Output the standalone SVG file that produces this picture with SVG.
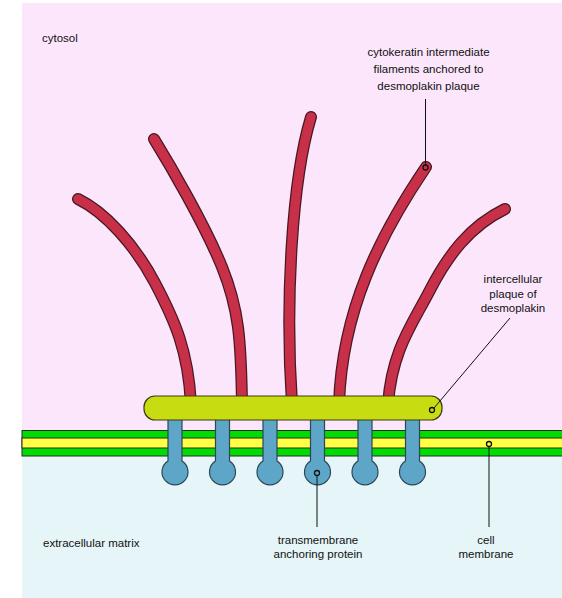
<svg xmlns="http://www.w3.org/2000/svg" width="562" height="598" viewBox="0 0 562 598">
  <defs>
    <style>
      .label { font-family: "Liberation Sans", Arial, sans-serif; font-size: 11.5px; fill: #111; }
      .mid { text-anchor: middle; }
      .fil-edge { fill: none; stroke: #4a1822; stroke-width: 12; stroke-linecap: round; }
      .fil-core { fill: none; stroke: #c83049; stroke-width: 9.5; stroke-linecap: round; }
      .protein { fill: #5ea6c8; stroke: #2c4656; stroke-width: 1.2; }
      .leader { fill: none; stroke: #111; stroke-width: 1; }
      .dot { fill: none; stroke: #111; stroke-width: 1.3; }
    </style>
  </defs>

  <!-- background compartments -->
  <rect x="22" y="3" width="540" height="430" fill="#fce6fc"/>
  <rect x="22" y="452" width="540" height="146" fill="#e6f5f7"/>

  <!-- cell membrane (bilayer) -->
  <g id="membrane">
    <rect x="22" y="430.5" width="545" height="25.5" fill="#00dc00" stroke="#2a2a2a" stroke-width="1"/>
    <rect x="22" y="438" width="545" height="10" fill="#ffff44" stroke="#2a2a2a" stroke-width="1"/>
  </g>

  <!-- cytokeratin filaments -->
  <g id="filaments">
    <g id="filament-1">
      <path class="fil-edge" d="M78,199 C105,212 135,245 155,283 S188,350 191,404"/>
      <path class="fil-core" d="M78,199 C105,212 135,245 155,283 S188,350 191,404"/>
    </g>
    <g id="filament-2">
      <path class="fil-edge" d="M154,139 C170,165 205,225 222,267 S241,340 242,404"/>
      <path class="fil-core" d="M154,139 C170,165 205,225 222,267 S241,340 242,404"/>
    </g>
    <g id="filament-3">
      <path class="fil-edge" d="M311,117 C292,180 285,300 292,404"/>
      <path class="fil-core" d="M311,117 C292,180 285,300 292,404"/>
    </g>
    <g id="filament-4">
      <path class="fil-edge" d="M426,167 C380,235 342,310 339,404"/>
      <path class="fil-core" d="M426,167 C380,235 342,310 339,404"/>
    </g>
    <g id="filament-5">
      <path class="fil-edge" d="M505,209 C470,226 448,255 430,290 S392,350 388,404"/>
      <path class="fil-core" d="M505,209 C470,226 448,255 430,290 S392,350 388,404"/>
    </g>
  </g>

  <!-- transmembrane anchoring proteins -->
  <g id="proteins">
    <path id="protein-1" class="protein" d="M168,418 V461 A13,13 0 1 0 182,461 V418 Z"/>
    <path id="protein-2" class="protein" d="M215.5,418 V461 A13,13 0 1 0 229.5,461 V418 Z"/>
    <path id="protein-3" class="protein" d="M263,418 V461 A13,13 0 1 0 277,461 V418 Z"/>
    <path id="protein-4" class="protein" d="M310.5,418 V461 A13,13 0 1 0 324.5,461 V418 Z"/>
    <path id="protein-5" class="protein" d="M358,418 V461 A13,13 0 1 0 372,461 V418 Z"/>
    <path id="protein-6" class="protein" d="M405.5,418 V461 A13,13 0 1 0 419.5,461 V418 Z"/>
  </g>

  <!-- desmoplakin plaque -->
  <g id="plaque">
    <rect x="144" y="396" width="298" height="24" rx="11" ry="11" fill="#c8dc12" stroke="#3a3a14" stroke-width="1.2"/>
  </g>

  <!-- leader lines -->
  <g id="connectors">
    <line class="leader" x1="425.5" y1="99" x2="425.5" y2="165"/>
    <circle class="dot" cx="425.5" cy="167.5" r="2.5"/>
    <line class="leader" x1="510" y1="318" x2="434" y2="408" stroke-width="0.8"/>
    <circle class="dot" cx="432" cy="410" r="2.5"/>
    <line class="leader" x1="317" y1="475" x2="317" y2="527"/>
    <circle class="dot" cx="317" cy="473" r="2.5"/>
    <line class="leader" x1="489" y1="446" x2="489" y2="527"/>
    <circle class="dot" cx="489" cy="444" r="2.5"/>
  </g>

  <!-- labels -->
  <g id="labels">
    <text class="label" x="42" y="42">cytosol</text>
    <text class="label mid" x="428.5" y="56">cytokeratin intermediate</text>
    <text class="label mid" x="428.5" y="73">filaments anchored to</text>
    <text class="label mid" x="428.5" y="90">desmoplakin plaque</text>
    <text class="label mid" x="513" y="283">intercellular</text>
    <text class="label mid" x="513" y="297.5">plaque of</text>
    <text class="label mid" x="513" y="312">desmoplakin</text>
    <text class="label" x="43" y="547">extracellular matrix</text>
    <text class="label mid" x="318" y="544">transmembrane</text>
    <text class="label mid" x="318" y="558">anchoring protein</text>
    <text class="label mid" x="486" y="544">cell</text>
    <text class="label mid" x="486" y="558">membrane</text>
  </g>
</svg>
